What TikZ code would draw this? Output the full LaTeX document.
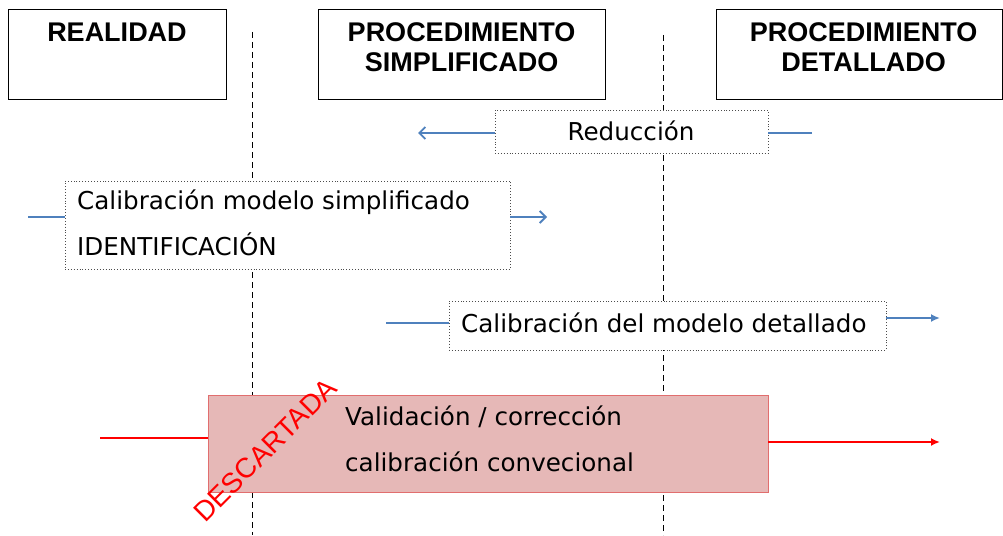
\documentclass[tikz,border=0pt]{standalone}
\usepackage{fontspec}
\setmainfont{DejaVu Sans}
\newfontfamily\hdrfont{Liberation Sans}
\usetikzlibrary{arrows.meta}
\definecolor{blueln}{RGB}{79,129,189}
\definecolor{redfill}{RGB}{230,184,183}
\definecolor{redborder}{RGB}{225,110,110}
\tikzset{
  hdrbox/.style={draw=black, line width=1pt, inner sep=0pt},
  hdrtext/.style={font=\hdrfont\bfseries\fontsize{27}{30}\selectfont, align=center, inner sep=0pt},
  txtbox/.style={draw=black!70, dotted, line width=0.9pt, inner sep=0pt, fill=white},
  bodytext/.style={font=\fontsize{24.6}{46}\selectfont, inner sep=0pt, align=left},
  sepline/.style={draw=black, line width=0.8pt, dash pattern=on 6pt off 4pt},
  blueconn/.style={draw=blueln, line width=1.8pt},
  redconn/.style={draw=red, line width=2.2pt},
}
\begin{document}
\begin{tikzpicture}[x=1pt,y=-1pt]
\useasboundingbox (0,0) rectangle (1003,535);
% separators
\coordinate (s1a) at (252,32); \coordinate (s1b) at (252,535);
\coordinate (s2a) at (663,35); \coordinate (s2b) at (663,535);
\draw[sepline] (s1a) -- (s1b);
\draw[sepline] (s2a) -- (s2b);
% header boxes
\node[hdrbox, minimum width=218pt, minimum height=89pt] (h1) at (117,54.5) {};
\node[hdrbox, minimum width=287pt, minimum height=89pt] (h2) at (461.5,54.5) {};
\node[hdrbox, minimum width=286pt, minimum height=89pt] (h3) at (859,54.5) {};
\node[hdrtext, anchor=north] (h1t) at (117,22.5) {REALIDAD};
\node[hdrtext, anchor=north] (h2t) at (461.5,22.5) {PROCEDIMIENTO\\SIMPLIFICADO};
\node[hdrtext, anchor=north] (h3t) at (863.5,22.5) {PROCEDIMIENTO\\DETALLADO};
% Reduccion
\node[txtbox, minimum width=273pt, minimum height=43pt] (red1) at (631.5,131.5) {};
\node[bodytext] (red1t) at (631,131) {Reducción};
\coordinate (r1R) at (812,133);
\coordinate (r1L) at (418,133);
\draw[blueconn] (r1R) -- (r1R -| red1.east);
\draw[blueconn, -{Straight Barb[length=6pt,width=12pt]}] (r1L -| red1.west) -- (r1L);
% Calibracion modelo simplificado
\node[txtbox, minimum width=445pt, minimum height=88pt] (cms) at (287.5,225) {};
\node[bodytext, anchor=west] (cmst) at (77,223) {Calibración modelo simplificado\\IDENTIFICACIÓN};
\coordinate (cL) at (28,217);
\coordinate (cR) at (547,217);
\draw[blueconn] (cL) -- (cL -| cms.west);
\draw[blueconn, -{Straight Barb[length=6pt,width=12pt]}] (cR -| cms.east) -- (cR);
% Calibracion del modelo detallado
\node[txtbox, minimum width=437pt, minimum height=49pt] (cmd) at (667.5,325.5) {};
\node[bodytext, anchor=west] (cmdt) at (461,323) {Calibración del modelo detallado};
\coordinate (dL) at (386,323);
\coordinate (dR) at (940,318);
\draw[blueconn] (dL) -- (dL -| cmd.west);
\draw[blueconn, -{Latex[length=9pt,width=8pt]}] (dR -| cmd.east) -- (dR);
% Validacion
\node[draw=redborder, fill=redfill, line width=0.8pt, minimum width=560pt, minimum height=97pt, inner sep=0pt] (val) at (488,443.5) {};
\node[bodytext, anchor=west] (valt) at (345,439) {Validación / corrección\\calibración convecional};
\coordinate (vL) at (100,438);
\coordinate (vR) at (940,442);
\draw[redconn] (vL) -- (vL -| val.west);
\draw[redconn, -{Latex[length=9pt,width=8pt]}] (vR -| val.east) -- (vR);
\node[font=\hdrfont\fontsize{28}{30}\selectfont, text=red, rotate=45, inner sep=0pt] (desc) at (265,450) {DESCARTADA};
\end{tikzpicture}
\end{document}
